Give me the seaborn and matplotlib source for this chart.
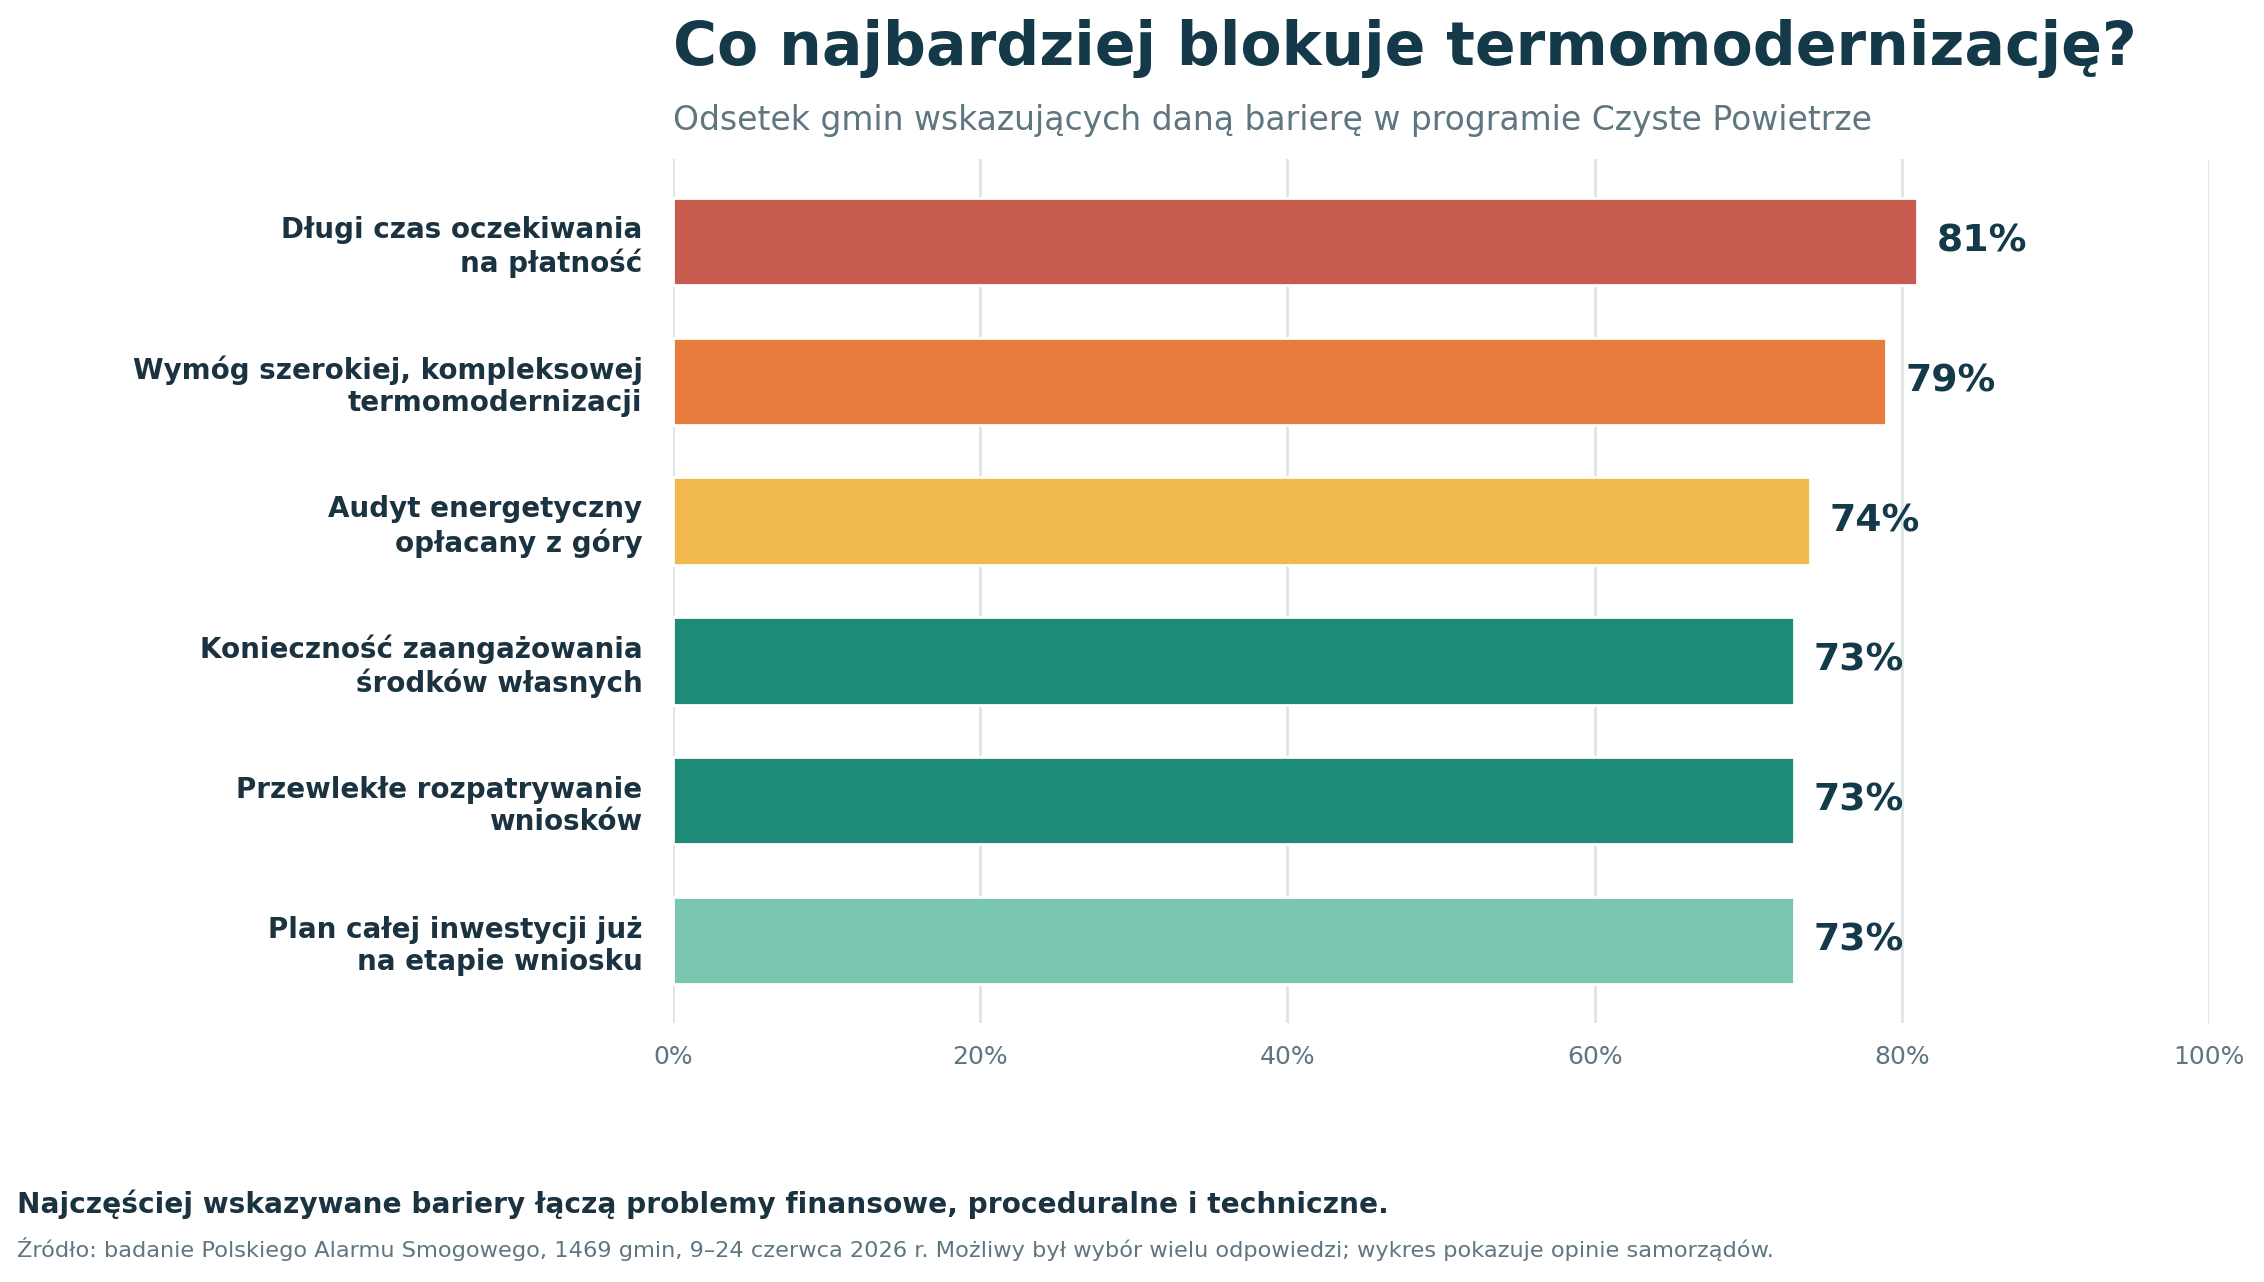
import matplotlib
matplotlib.use("Agg")
import matplotlib.pyplot as plt
import seaborn as sns
import pandas as pd
from matplotlib.ticker import FuncFormatter

categories = [
    "Długi czas oczekiwania\nna płatność",
    "Wymóg szerokiej, kompleksowej\ntermomodernizacji",
    "Audyt energetyczny\nopłacany z góry",
    "Konieczność zaangażowania\nśrodków własnych",
    "Przewlekłe rozpatrywanie\nwniosków",
    "Plan całej inwestycji już\nna etapie wniosku",
]
values = [81, 79, 74, 73, 73, 73]
colors = ["#c65b4e", "#e87b3e", "#f1b84d", "#1e8a78", "#1e8a78", "#79c7b0"]
xticks = [0, 20, 40, 60, 80, 100]

title = "Co najbardziej blokuje termomodernizację?"
subtitle = "Odsetek gmin wskazujących daną barierę w programie Czyste Powietrze"
footer = "Najczęściej wskazywane bariery łączą problemy finansowe, proceduralne i techniczne."
source = ("Źródło: badanie Polskiego Alarmu Smogowego, 1469 gmin, 9–24 czerwca 2026 r. "
          "Możliwy był wybór wielu odpowiedzi; wykres pokazuje opinie samorządów.")

DARK = "#143a4a"
LABEL = "#1b3340"
GRAY = "#5f7680"
GRID = "#dde6e6"

sns.set_theme(style="white")
plt.rcParams["font.family"] = ["DejaVu Sans"]

df = pd.DataFrame({"cat": categories, "val": values})

fig = plt.figure(figsize=(11.32, 6.41), dpi=200)
ax = fig.add_axes([0.2973, 0.202, 0.9757 - 0.2973, 0.876 - 0.202])

sns.barplot(data=df, y="cat", x="val", hue="cat", palette=colors,
            orient="h", width=0.625, legend=False, ax=ax, saturation=1)

ax.set_xlim(0, 100)
ax.set_ylim(5.59, -0.59)
ax.set_xticks(xticks)
ax.xaxis.set_major_formatter(FuncFormatter(lambda v, p: f"{v:.0f}%"))
ax.set_xlabel("")
ax.set_ylabel("")
ax.set_axisbelow(True)
ax.grid(axis="x", color=GRID, linewidth=1.0)
ax.grid(axis="y", visible=False)
for s in ax.spines.values():
    s.set_visible(False)
ax.tick_params(axis="x", length=0, pad=8, labelsize=9, labelcolor=GRAY)
ax.tick_params(axis="y", length=0, pad=11, labelsize=10, labelcolor=LABEL)
for lab in ax.get_yticklabels():
    lab.set_fontweight("bold")

for container in ax.containers:
    ax.bar_label(container, labels=[f"{v:.0f}%" for v in container.datavalues],
                 padding=7, fontsize=13.6, fontweight="bold", color=DARK)

fig.text(0.2973, 0.949, title, fontsize=21.6, fontweight="bold", color=DARK, va="baseline")
fig.text(0.2973, 0.8986, subtitle, fontsize=11.9, color=GRAY, va="baseline")
fig.text(0.0075, 0.0538, footer, fontsize=10.1, fontweight="bold", color=LABEL, va="baseline")
fig.text(0.0075, 0.0195, source, fontsize=8.08, color=GRAY, va="baseline")

fig.savefig("out.png", dpi=200)
